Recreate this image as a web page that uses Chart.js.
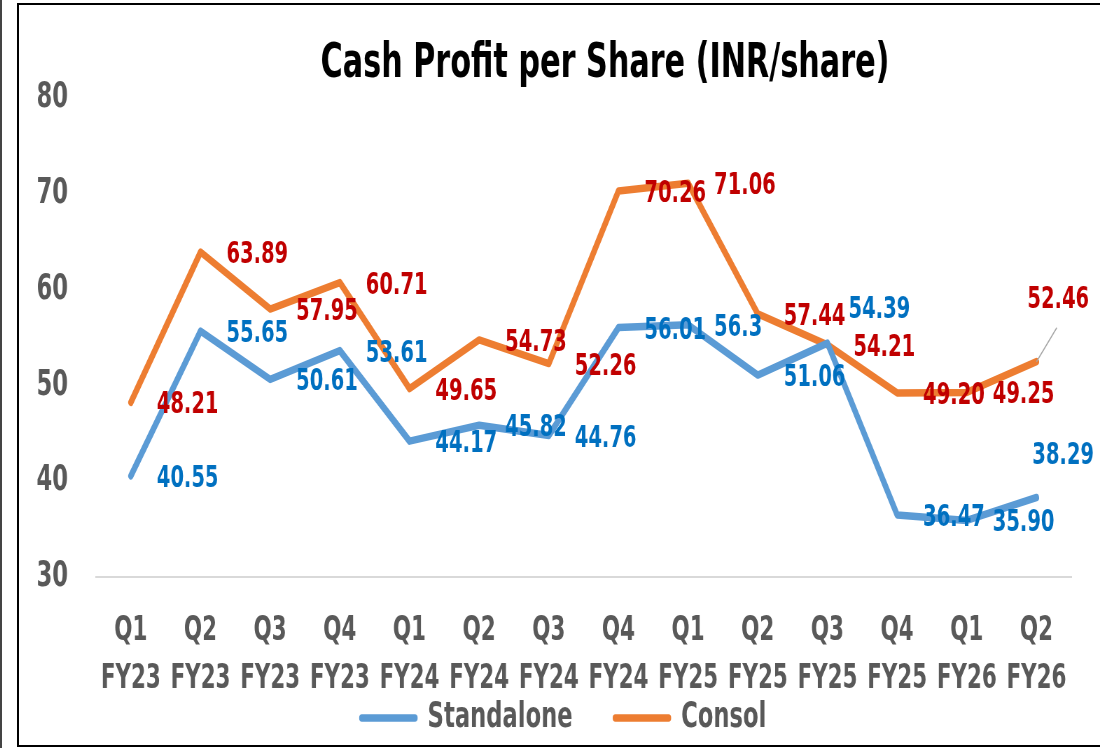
<!DOCTYPE html>
<html>
<head>
<meta charset="utf-8">
<title>Cash Profit per Share</title>
<script src="https://cdn.jsdelivr.net/npm/chart.js@4.4.1/dist/chart.umd.min.js"></script>
<style>
  html, body { margin: 0; padding: 0; background: #fff; overflow: hidden; }
  #edge { position: absolute; left: 0; top: 0; width: 2px; height: 748px; background: #444; }
  #frame { position: absolute; left: 17px; top: 3px; width: 1100px; height: 740px;
           border: 2px solid #000; overflow: hidden; background: #fff; }
  canvas { display: block; }
</style>
</head>
<body>
<div id="edge"></div>
<div id="frame">
  <!-- drawn 1544 wide and shown at 1081: the original chart is horizontally squeezed -->
  <canvas id="cps" width="1544" height="804" style="width:1081px;height:804px"></canvas>
</div>
<script>
// Cash profit per share, quarterly (INR/share)
const quarters = [
  ['Q1','FY23'], ['Q2','FY23'], ['Q3','FY23'], ['Q4','FY23'],
  ['Q1','FY24'], ['Q2','FY24'], ['Q3','FY24'], ['Q4','FY24'],
  ['Q1','FY25'], ['Q2','FY25'], ['Q3','FY25'], ['Q4','FY25'],
  ['Q1','FY26'], ['Q2','FY26']
];
// kept as the label text shown on the chart
const standalone = ['40.55','55.65','50.61','53.61','44.17','45.82','44.76','56.01','56.3','51.06','54.39','36.47','35.90','38.29'];
const consol     = ['48.21','63.89','57.95','60.71','49.65','54.73','52.26','70.26','71.06','57.44','54.21','49.20','49.25','52.46'];
const yTicks = [30, 40, 50, 60, 70, 80];

const FONT = '"DejaVu Sans Condensed", "DejaVu Sans", sans-serif';
const GREY = '#595959';
Chart.defaults.font.family = FONT;

// label placement: default is right of the point, a few were moved by hand
const labelNudge = { '0-10': [30, -33], '0-13': [-6, -42], '1-13': [-13, -62] };
const leaderLines = { '1-13': [29, -34] };

const pointLabels = {
  id: 'pointLabels',
  afterDatasetsDraw(chart) {
    const ctx = chart.ctx;
    ctx.save();
    ctx.font = `bold 31px ${FONT}`;
    ctx.textAlign = 'left';
    ctx.textBaseline = 'middle';
    chart.data.datasets.forEach((ds, i) => {
      chart.getDatasetMeta(i).data.forEach((pt, j) => {
        const key = i + '-' + j;
        const [dx, dy] = labelNudge[key] || [37, 3];
        if (leaderLines[key]) {
          const [lx, ly] = leaderLines[key];
          ctx.strokeStyle = '#A6A6A6';
          ctx.lineWidth = 1.5;
          ctx.beginPath();
          ctx.moveTo(pt.x, pt.y);
          ctx.lineTo(pt.x + lx, pt.y + ly);
          ctx.stroke();
        }
        ctx.fillStyle = ds.labelColor;
        ctx.fillText(ds.data[j], pt.x + dx, pt.y + dy);
      });
    });
    ctx.restore();
  }
};

// title sits right of centre, legend sits higher than the layout puts it
const placeBlocks = {
  id: 'placeBlocks',
  afterLayout(chart) {
    if (chart.titleBlock) chart.titleBlock.left += 171;
    const lg = chart.legend;
    if (lg) {
      const h = lg.bottom - lg.top;
      lg.top = 634; lg.bottom = 634 + h;
      lg.left += 27; lg.right += 27;
    }
  }
};

new Chart(document.getElementById('cps'), {
  type: 'line',
  data: {
    labels: quarters,
    datasets: [
      { label: 'Standalone', data: standalone, borderColor: '#5B9BD5', backgroundColor: '#5B9BD5',
        labelColor: '#0070C0', borderWidth: 7.5, pointRadius: 0, tension: 0,
        borderJoinStyle: 'round', borderCapStyle: 'round' },
      { label: 'Consol', data: consol, borderColor: '#ED7D31', backgroundColor: '#ED7D31',
        labelColor: '#C00000', borderWidth: 7.5, pointRadius: 0, tension: 0,
        borderJoinStyle: 'round', borderCapStyle: 'round' }
    ]
  },
  options: {
    responsive: false,
    animation: false,
    layout: { padding: { left: 0, right: 41, top: 0, bottom: 0 } },
    plugins: {
      title: {
        display: true,
        text: 'Cash Profit per Share (INR/share)',
        color: '#000',
        font: { size: 48, weight: 'bold' },
        padding: { top: 31, bottom: 4 }
      },
      legend: {
        position: 'bottom',
        labels: { boxWidth: 76, boxHeight: 0, color: GREY, padding: 61,
                  font: { size: 36, weight: 'bold' } }
      },
      tooltip: { enabled: false }
    },
    scales: {
      x: {
        offset: true,
        grid: { display: false, drawTicks: false },
        border: { display: true, color: '#D9D9D9', width: 2 },
        ticks: { color: GREY, font: { size: 34, weight: 'bold', lineHeight: 1.42 },
                 padding: 30, maxRotation: 0, autoSkip: false },
        afterFit(s) { s.height = 125; }
      },
      y: {
        min: 30, max: 80,
        grid: { display: false, drawTicks: false },
        border: { display: false },
        ticks: { color: GREY, font: { size: 36, weight: 'bold' }, padding: 40 },
        afterBuildTicks(s) { s.ticks = yTicks.map(v => ({ value: v })); },
        afterFit(s) { s.width = 110; }
      }
    }
  },
  plugins: [pointLabels, placeBlocks]
});
</script>
</body>
</html>
